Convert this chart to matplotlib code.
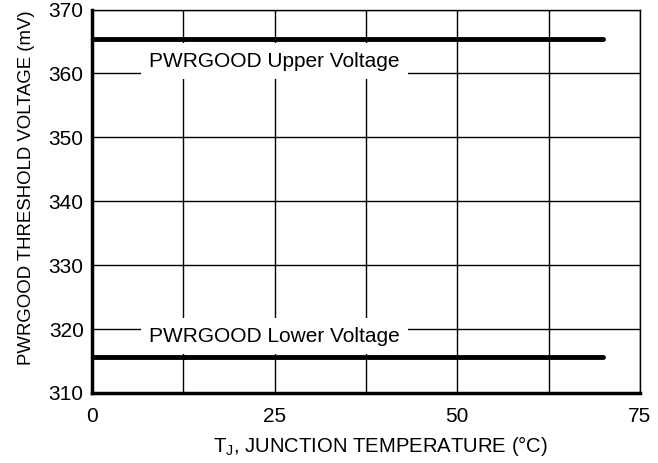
import matplotlib
matplotlib.use("Agg")
import matplotlib.pyplot as plt

# Daten aus dem Diagramm
temp = [0, 70]
upper_mv = [365.4, 365.4]
lower_mv = [315.7, 315.7]
x_ticks = [0, 25, 50, 75]
y_ticks = [310, 320, 330, 340, 350, 360, 370]

plt.rcParams['font.family'] = ['Liberation Sans', 'DejaVu Sans']
plt.rcParams['mathtext.fontset'] = 'custom'
plt.rcParams['mathtext.rm'] = 'Liberation Sans'

fig = plt.figure(figsize=(6.58, 4.63), dpi=100)
ax = fig.add_axes([92 / 658, 1 - 393 / 463, 548 / 658, 383.5 / 463])

ax.set_xlim(0, 75)
ax.set_ylim(310, 370)
ax.set_xticks(x_ticks)
ax.set_yticks(y_ticks)
ax.set_xticks([12.5 * i for i in range(7)], minor=True)
ax.grid(True, which='both', color='black', linewidth=1.0)
ax.set_axisbelow(True)
ax.tick_params(which='both', length=0, labelsize=15)
ax.tick_params(axis='x', pad=10)
ax.tick_params(axis='y', pad=6)

for side in ['top', 'right']:
    ax.spines[side].set_linewidth(1.0)
for side in ['left', 'bottom']:
    ax.spines[side].set_linewidth(2.5)

ax.plot(temp, upper_mv, color='black', linewidth=3.5, solid_capstyle='round', zorder=3)
ax.plot(temp, lower_mv, color='black', linewidth=3.5, solid_capstyle='round', zorder=3)

box = dict(facecolor='white', edgecolor='none', pad=6)
ax.text(25, 361.9, 'PWRGOOD Upper Voltage', ha='center', va='center',
        fontsize=15, bbox=box, zorder=2)
ax.text(25, 318.9, 'PWRGOOD Lower Voltage', ha='center', va='center',
        fontsize=15, bbox=box, zorder=2)

ax.set_xlabel(r'T$_\mathregular{J}$, JUNCTION TEMPERATURE (°C)', fontsize=14.6, labelpad=6)
ax.set_ylabel('PWRGOOD THRESHOLD VOLTAGE (mV)', fontsize=13.4, labelpad=10)
ax.xaxis.label.set_x(0.526)
ax.yaxis.label.set_y(0.535)

fig.savefig('out.png', dpi=100)
